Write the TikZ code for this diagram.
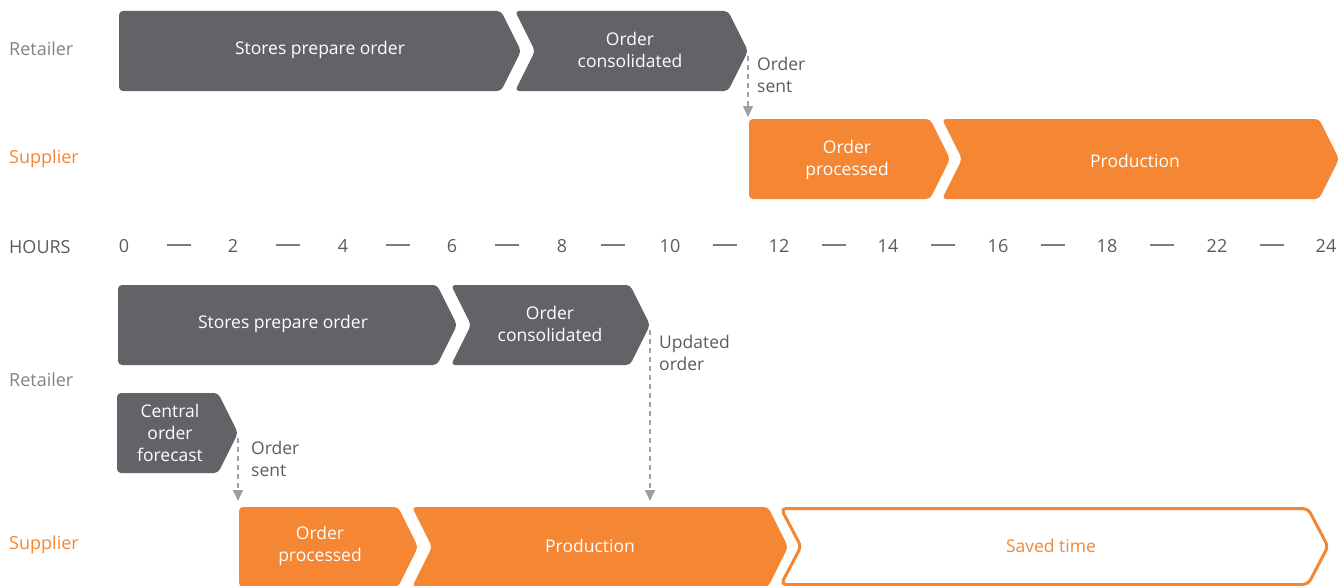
\documentclass[tikz,border=0pt]{standalone}
\usepackage{fontspec}
\setmainfont{Open Sans}
\usetikzlibrary{arrows.meta,calc}
\definecolor{dk}{HTML}{626366}
\definecolor{org}{HTML}{F58634}
\definecolor{lbl}{HTML}{808285}
\definecolor{axt}{HTML}{5A5B5E}
\definecolor{arrc}{HTML}{9D9FA2}
\newcommand\chevA[4]{\path[#1] (#2,#4) -- (#3,#4) -- (#3+20,#4+40) -- (#3,#4+80) -- (#2,#4+80) -- cycle;}
\newcommand\chevB[4]{\path[#1] (#2,#4) -- (#3,#4) -- (#3+20,#4+40) -- (#3,#4+80) -- (#2,#4+80) -- (#2+20,#4+40) -- cycle;}
\tikzset{
 dkbox/.style={fill=dk, rounded corners=4pt},
 orbox/.style={fill=org, rounded corners=4pt},
 svbox/.style={draw=org, line width=3pt, fill=white, rounded corners=5pt},
 intext/.style={text=white, font=\fontsize{17.5}{22}\selectfont, align=center, inner sep=0pt},
 svtext/.style={intext, text=org},
 side/.style={anchor=west, font=\fontsize{18}{22}\selectfont, inner sep=0pt},
 note/.style={anchor=west, align=left, text=axt, font=\fontsize{17.5}{22}\selectfont, inner sep=0pt},
 hr/.style={text=axt, font=\fontsize{18}{22}\selectfont, inner sep=0pt},
 tickline/.style={draw=axt!80, line width=1.3pt},
 flow/.style={draw=arrc, line width=1.5pt, dash pattern=on 5pt off 4pt, -{Triangle[width=10pt,length=11pt]}},
}
\begin{document}
\begin{tikzpicture}[x=1pt,y=-1pt]
\useasboundingbox (0,0) rectangle (1341,586);
% side labels
\node[side, text=lbl] (r1) at (9,49) {Retailer};
\node[side, text=org] (s1) at (9,159) {Supplier};
\node[side, text=axt] (hrs) at (9,247) {HOURS};
\node[side, text=lbl] (r2) at (9,380) {Retailer};
\node[side, text=org] (s2) at (9,545) {Supplier};
% row 1
\chevA{dkbox}{119}{501}{11}
\chevB{dkbox}{515}{728}{11}
\node[intext] (spo1) at (320,50) {Stores prepare order};
\node[intext] (oc1) at (630,50) {Order\\consolidated};
\coordinate (oc1tip) at (748,56);
% row 2
\chevA{orbox}{749}{930}{119}
\chevB{orbox}{942}{1319}{119}
\node[intext] (op1) at (847,160) {Order\\processed};
\node[intext] (pr1) at (1135,161) {Production};
\coordinate (op1top) at (748,117);
\draw[flow] (oc1tip) -- (op1top);
\node[note] (os1) at (757,75) {Order\\sent};
% axis
\foreach \x/\t in {124/0,233/2,343/4,452/6,562/8,670/10,779/12,888/14,998/16,1107/18,1217/22,1326/24}
  \node[hr] (h\t) at (\x,246) {\t};
\foreach \a/\b in {0/2,2/4,4/6,6/8,8/10,10/12,12/14,14/16,16/18,18/22,22/24}
  \draw[tickline] ($(h\a.east)!0.5!(h\b.west)+(-12,-1)$) -- ($(h\a.east)!0.5!(h\b.west)+(12,-1)$);
% row 3
\chevA{dkbox}{118}{437}{285}
\chevB{dkbox}{451}{630}{285}
\node[intext] (spo2) at (283,324) {Stores prepare order};
\node[intext] (oc2) at (550,324) {Order\\consolidated};
\coordinate (oc2tip) at (650,330);
\node[note] (uo) at (659,353) {Updated\\order};
% row 4
\chevA{dkbox}{117}{218}{393}
\node[intext] (cof) at (170,433) {Central\\order\\forecast};
\coordinate (coftip) at (238,438);
\node[note] (os2) at (251,459) {Order\\sent};
% row 5
\chevA{orbox}{239}{398}{507}
\chevB{orbox}{412}{768}{507}
\path[svbox] (781,508.5) -- (1308,508.5) -- (1328,546.5) -- (1308,584.5) -- (781,584.5) -- (801,546.5) -- cycle;
\node[intext] (op2) at (320,546) {Order\\processed};
\node[intext] (pr2) at (590,546) {Production};
\node[svtext] (sv) at (1051,546) {Saved time};
\coordinate (op2top) at (238,501);
\coordinate (pr2top) at (650,501);
\draw[flow] (coftip) -- (op2top);
\draw[flow] (oc2tip) -- (pr2top);
\end{tikzpicture}
\end{document}
